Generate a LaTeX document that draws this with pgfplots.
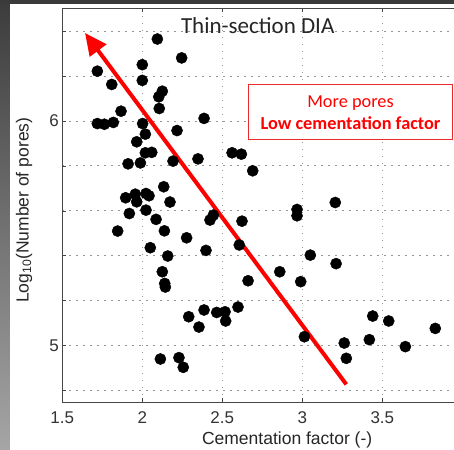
\documentclass[border=0pt]{standalone}
\usepackage{fontspec}
\setmainfont{Liberation Sans}
\newfontfamily\calibri{Carlito}
\usepackage{pgfplots}
\pgfplotsset{compat=1.18}
\usetikzlibrary{arrows.meta,backgrounds,calc}
\definecolor{gridgray}{RGB}{150,150,150}
\definecolor{axgray}{RGB}{70,70,70}
\definecolor{boxred}{RGB}{240,40,40}
\definecolor{stripdark}{RGB}{58,58,58}
\definecolor{striptop}{RGB}{60,60,60}
\definecolor{stripbot}{RGB}{165,165,165}
\begin{document}
\begin{tikzpicture}
\begin{axis}[
  name=ax, anchor=south west,
  scale only axis, width=391.7pt, height=393.5pt,
  xmin=1.5, xmax=3.948, ymin=4.75, ymax=6.5,
  axis x line*=box, axis y line*=left,
  axis line style={axgray, line width=0.8pt},
  xtick={1.5,2,2.5,3,3.5},
  xticklabels={1.5,2,2.5,3,3.5},
  ytick={4.8,5.0,5.2,5.4,5.6,5.8,6.0,6.2,6.4},
  yticklabels={,5,,,,,6,,},
  tick align=inside, major tick length=4pt,
  tick style={axgray, line width=0.6pt},
  grid=major,
  major grid style={gridgray, line width=0.7pt, dash pattern=on 1.2pt off 5.8pt},
  /pgf/number format/assume math mode=true,
  ticklabel style={font=\fontsize{17}{17}\selectfont, text=black!80},
  xticklabel style={yshift=-6pt},
  xlabel={Cementation factor (-)},
  ylabel={Log\textsubscript{10}(Number of pores)},
  label style={font=\fontsize{17.5}{17.5}\selectfont, text=black!85},
  xlabel style={at={(axis description cs:0.574,-0.1076)}, anchor=base},
  ylabel style={at={(axis description cs:-0.0978,0.487)}, anchor=center},
  clip=false,
]
\addplot[only marks, mark=*, mark size=5.6pt, mark options={fill=black, draw=black}] table {
x y
2.094 6.364
2.246 6.280
1.719 6.221
2.000 6.250
2.000 6.180
1.809 6.162
2.125 6.132
2.103 6.107
2.106 6.055
1.867 6.043
1.719 5.988
1.763 5.985
1.819 5.993
2.386 6.011
2.002 5.988
2.019 5.941
2.217 5.957
1.965 5.907
2.019 5.858
2.059 5.860
1.911 5.809
1.988 5.813
2.192 5.821
2.348 5.831
2.134 5.707
1.896 5.658
1.956 5.674
2.023 5.677
2.042 5.667
1.965 5.640
2.173 5.639
1.919 5.588
2.023 5.603
2.086 5.562
2.423 5.559
2.444 5.581
2.561 5.858
2.619 5.852
2.690 5.778
3.206 5.637
2.967 5.606
2.967 5.578
2.623 5.554
1.846 5.510
2.138 5.511
2.277 5.480
2.050 5.436
2.159 5.399
2.398 5.424
2.125 5.329
2.140 5.277
2.144 5.261
2.290 5.129
2.386 5.159
2.354 5.083
2.465 5.148
2.517 5.151
2.521 5.110
2.113 4.941
2.229 4.947
2.256 4.904
2.606 5.448
3.050 5.403
3.211 5.365
2.859 5.329
2.661 5.289
2.990 5.285
2.598 5.172
3.440 5.132
3.540 5.110
3.831 5.077
3.013 5.040
3.419 5.027
3.262 5.012
3.644 4.996
3.275 4.944
};
\draw[red, line width=4pt, -{Triangle[length=22pt,width=20pt]}] (axis cs:3.275,4.828) -- (axis cs:1.642,6.391);
\end{axis}
\coordinate (O) at ($(ax.south west)+(-62.3pt,-47.05pt)$);
\begin{scope}[shift={(O)}, x=1pt, y=1pt]
\begin{pgfonlayer}{background}
\fill[white] (0,0) rectangle (454,449);
\shade[top color=striptop, bottom color=stripbot] (0,0) rectangle (10,449);
\fill[stripdark] (0,444.5) rectangle (454,449);
\end{pgfonlayer}
\node[anchor=base, font=\calibri\fontsize{23}{23}\selectfont, text=black!85] at (257.7,415.7) {Thin-section DIA};
\draw[boxred, line width=1pt, fill=white] (248.7,309.7) rectangle (452.7,364);
\node[anchor=base, font=\calibri\fontsize{18.3}{18.3}\selectfont, text=red] at (350.5,341.3) {More pores};
\node[anchor=base, font=\calibri\bfseries\fontsize{18.3}{18.3}\selectfont, text=red] at (350.5,319) {Low cementation factor};
\end{scope}
\pgfresetboundingbox
\path[use as bounding box] ($(O)$) rectangle ($(O)+(454pt,449pt)$);
\end{tikzpicture}
\end{document}
